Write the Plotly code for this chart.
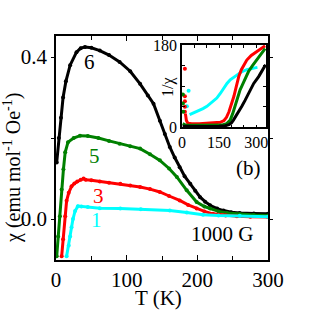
import plotly.graph_objects as go

# ---------------- main panel data: chi (emu mol^-1 Oe^-1) vs T (K) ----------------
T6 = [1, 4, 7, 10, 14, 20, 29, 35, 41, 50, 62, 75, 90, 105, 119, 130, 138, 147, 154, 161,
      168, 175, 182, 190, 197, 204, 211, 218, 228, 237, 248, 260, 280, 300]
chi6 = [0.14, 0.2, 0.25, 0.3, 0.34, 0.38, 0.412, 0.422, 0.425, 0.423, 0.416, 0.405, 0.388,
        0.365, 0.334, 0.305, 0.285, 0.243, 0.21, 0.178, 0.152, 0.128, 0.106, 0.087, 0.07,
        0.054, 0.043, 0.034, 0.026, 0.021, 0.017, 0.015, 0.014, 0.013]

T5 = [1, 3, 5.5, 8, 10.5, 13, 17, 25, 34, 45, 60, 75, 90, 105, 119, 133, 147, 160, 171,
      185, 199, 210, 218, 230, 242, 260, 280, 300]
chi5 = [-0.092, -0.043, 0.007, 0.073, 0.123, 0.165, 0.19, 0.2, 0.206, 0.205, 0.2, 0.193,
        0.186, 0.18, 0.174, 0.16, 0.145, 0.125, 0.104, 0.071, 0.042, 0.031, 0.026, 0.019,
        0.015, 0.012, 0.01, 0.009]

T3 = [8, 10, 13, 15, 18, 22, 26, 30, 35, 39, 42, 50, 62, 75, 91, 105, 119, 133, 147, 160,
      175, 187, 199, 210, 222, 240, 256, 275, 300]
chi3 = [-0.092, -0.05, 0.007, 0.045, 0.065, 0.081, 0.088, 0.093, 0.097, 0.1, 0.097, 0.096,
        0.093, 0.09, 0.087, 0.083, 0.079, 0.074, 0.067, 0.057, 0.046, 0.035, 0.026, 0.019,
        0.013, 0.009, 0.007, 0.006, 0.005]

T1 = [15, 18, 20, 22, 24, 27, 31, 36, 45, 62, 91, 120, 161, 185, 208, 230, 260, 300]
chi1 = [-0.092, -0.065, -0.043, -0.02, 0.0, 0.02, 0.032, 0.031, 0.03, 0.027, 0.026, 0.024,
        0.021, 0.016, 0.011, 0.009, 0.008, 0.006]

# ---------------- inset data: 1/chi vs T ----------------
iT6 = [3, 40, 100, 150, 175, 190, 200, 208, 220, 230, 242, 255, 265, 276, 290, 310, 325, 338]
inv6 = [2.5, 2, 2, 2.5, 3.5, 6, 10, 16, 26, 35, 46, 59, 70, 82, 96, 111, 124, 137]

iT5 = [3, 15, 40, 80, 120, 160, 180, 195, 205, 214, 225, 235, 242, 255, 269, 285, 303, 320, 336]
inv5 = [8, 5, 4.5, 4.5, 4.5, 5, 8, 16, 30, 46, 66, 82, 90, 107, 122, 135, 148, 161, 172]
dT5 = [4, 4, 5]
dinv5 = [72, 52, 34]

iT3 = [14, 18, 24, 40, 70, 100, 130, 155, 170, 180, 190, 200, 210, 220, 230, 240, 250, 262,
       280, 303, 320, 336]
inv3 = [30, 15, 9, 8, 8, 8.5, 9, 11, 15, 22, 34, 50, 68, 90, 112, 126, 137, 147, 157, 166,
        172, 178]
dT3 = [12, 12, 12, 12, 12]
dinv3 = [128, 68, 57, 45, 34]

iT1 = [31, 40, 47, 65, 85, 101, 120, 141, 155, 168, 182, 195, 210, 222, 240, 262, 280, 295, 305]
inv1 = [28, 30, 33, 36, 41, 46, 54, 64, 74, 86, 96, 104, 110, 115, 121, 126, 129, 130, 131]
dT1 = [20, 27]
dinv1 = [46, 80]

colors = {"6": "#000000", "5": "#008000", "3": "#ff0000", "1": "#00ffff"}
FONT = "Liberation Serif, Times New Roman, serif"

fig = go.Figure()

main = [("6", T6, chi6), ("5", T5, chi5), ("3", T3, chi3), ("1", T1, chi1)]
for name, t, c in main:
    fig.add_trace(go.Scatter(x=t, y=c, mode="lines+markers", xaxis="x", yaxis="y",
                             line=dict(color=colors[name], width=3),
                             marker=dict(color=colors[name], size=4),
                             showlegend=False, hoverinfo="skip"))

inset = [("6", iT6, inv6, None, None), ("5", iT5, inv5, dT5, dinv5),
         ("3", iT3, inv3, dT3, dinv3), ("1", iT1, inv1, dT1, dinv1)]
for name, t, v, dt, dv in inset[::-1]:
    fig.add_trace(go.Scatter(x=t, y=v, mode="lines", xaxis="x2", yaxis="y2",
                             line=dict(color=colors[name], width=3),
                             showlegend=False, hoverinfo="skip"))
    if dt:
        fig.add_trace(go.Scatter(x=dt, y=dv, mode="markers", xaxis="x2", yaxis="y2",
                                 marker=dict(color=colors[name], size=4),
                                 showlegend=False, hoverinfo="skip"))

axis_common = dict(showline=True, linecolor="black", linewidth=1.5, mirror="ticks",
                   showgrid=False, zeroline=False, tickcolor="black",
                   tickfont=dict(family=FONT, size=21, color="black"))

fig.update_layout(
    width=312, height=312,
    margin=dict(l=56, r=44, t=36, b=52),
    paper_bgcolor="white", plot_bgcolor="white",
    xaxis=dict(**axis_common, range=[0, 300], tickmode="array", tickvals=[0, 100, 200, 300],
               ticks="inside", ticklen=5, tickwidth=1.2,
               minor=dict(tickvals=[50, 150, 250], ticks="inside", ticklen=4, tickcolor="black")),
    yaxis=dict(**axis_common, range=[-0.101, 0.452], tickmode="array", tickvals=[0.0, 0.4],
               ticktext=["0.0", "0.4"], ticks="outside", ticklen=3, tickwidth=1.2,
               minor=dict(tickvals=[0.2], ticks="outside", ticklen=3, tickcolor="black")),
    xaxis2=dict(showline=True, linecolor="black", linewidth=1.5, mirror="ticks",
                showgrid=False, zeroline=False, tickcolor="black",
                tickfont=dict(family=FONT, size=16, color="black"),
                domain=[0.594, 0.991], anchor="y2", range=[0, 340],
                tickmode="array", tickvals=[0, 150, 300], ticks="inside", ticklen=3,
                minor=dict(tickvals=[50, 100, 200, 250], ticks="inside", ticklen=3,
                           tickcolor="black")),
    yaxis2=dict(showline=True, linecolor="black", linewidth=1.5, mirror="ticks",
                showgrid=False, zeroline=False, tickcolor="black",
                tickfont=dict(family=FONT, size=16, color="black"),
                domain=[0.592, 0.960], anchor="x2", range=[0, 180],
                tickmode="array", tickvals=[0, 180], ticks="inside", ticklen=3,
                minor=dict(tickvals=[45, 90, 135], ticks="inside", ticklen=3,
                           tickcolor="black")),
)
fig.update_yaxes(tickfont=dict(size=20), selector=dict(anchor="x"))

ann = [
    dict(text="6", x=48, y=0.387, color=colors["6"]),
    dict(text="5", x=55, y=0.155, color=colors["5"]),
    dict(text="3", x=60, y=0.056, color=colors["3"]),
    dict(text="1", x=57.6, y=-0.002, color=colors["1"]),
    dict(text="1000 G", x=235, y=-0.038, color="black"),
    dict(text="(b)", x=273, y=0.125, color="black"),
]
for a in ann:
    fig.add_annotation(text=a["text"], x=a["x"], y=a["y"], xref="x", yref="y",
                       showarrow=False, font=dict(family=FONT, size=21, color=a["color"]),
                       xanchor="center", yanchor="middle")

# axis titles (positions in paper coords derived from pixel positions)
fig.add_annotation(text="T (K)", x=(158 - 56) / 212, y=(260 - 298) / 224,
                   xref="paper", yref="paper", xanchor="center", yanchor="middle",
                   showarrow=False, font=dict(family=FONT, size=21, color="black"))
fig.add_annotation(text="χ (emu mol<sup>-1</sup> Oe<sup>-1</sup>)", textangle=-90,
                   x=(12 - 56) / 212, y=(260 - 168) / 224, xref="paper", yref="paper",
                   xanchor="center", yanchor="middle", showarrow=False,
                   font=dict(family=FONT, size=20, color="black"))
fig.add_annotation(text="1/χ", textangle=-90,
                   x=(168 - 56) / 212, y=(260 - 87) / 224, xref="paper", yref="paper",
                   xanchor="center", yanchor="middle", showarrow=False,
                   font=dict(family=FONT, size=16, color="black"))

fig.write_html("out.html", config={"displayModeBar": False},
               post_script="document.body.style.margin='0';document.body.style.overflow='hidden';")
